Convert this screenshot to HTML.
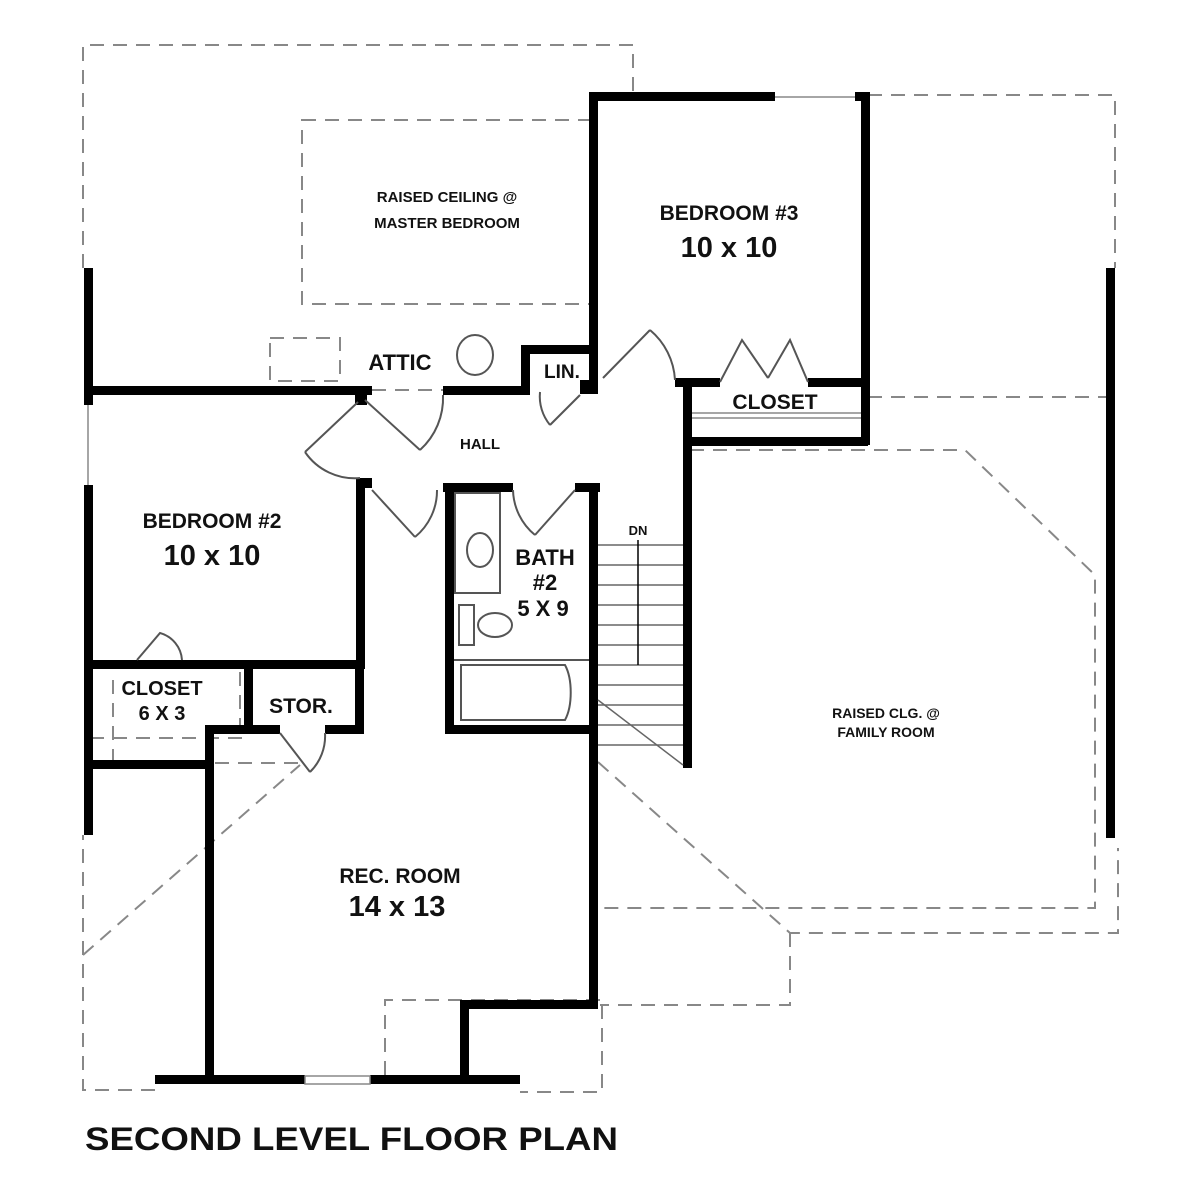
<!DOCTYPE html>
<html><head><meta charset="utf-8"><style>
html,body{margin:0;padding:0;background:#fff;width:1200px;height:1200px;overflow:hidden}
text{font-family:"Liberation Sans",sans-serif;font-weight:bold;fill:#111}
</style></head><body>
<svg width="1200" height="1200" viewBox="0 0 1200 1200" xmlns="http://www.w3.org/2000/svg">
<g fill="none" stroke="#888" stroke-width="2" stroke-dasharray="14,9">
<polyline points="83,268 83,45 633,45 633,95"/>
<rect x="302" y="120" width="288" height="184"/>
<polyline points="868,95 1115,95 1115,268"/>
<line x1="868" y1="397" x2="1115" y2="397"/>
<polyline points="690,450 965,450 1095,575 1095,908 598,908"/>
<polyline points="598,762 790,933 1118,933 1118,848"/>
<polyline points="790,933 790,1005 600,1005"/>
<polyline points="602,1005 602,1092 520,1092"/>
<polyline points="385,1075 385,1000 600,1000"/>
<polyline points="155,1090 83,1090 83,835"/>
<line x1="83" y1="955" x2="300" y2="765"/>
<line x1="215" y1="763" x2="305" y2="763"/>
<line x1="90" y1="738" x2="245" y2="738"/>
<line x1="113" y1="680" x2="113" y2="765"/>
<line x1="240" y1="672" x2="240" y2="725"/>
<rect x="270" y="338" width="70" height="43"/>
<line x1="372" y1="390" x2="443" y2="390"/>
</g>
<g fill="#000">
<rect x="84" y="268" width="9" height="137"/>
<rect x="84" y="485" width="9" height="350"/>
<rect x="84" y="386" width="288" height="9"/>
<rect x="443" y="386" width="87" height="9"/>
<rect x="521" y="345" width="9" height="50"/>
<rect x="521" y="345" width="75" height="9"/>
<rect x="589" y="92" width="9" height="298"/>
<rect x="589" y="92" width="186" height="9"/>
<rect x="855" y="92" width="13" height="9"/>
<rect x="861" y="92" width="9" height="353"/>
<rect x="675" y="378" width="45" height="9"/>
<rect x="808" y="378" width="60" height="9"/>
<rect x="683" y="378" width="9" height="390"/>
<rect x="683" y="437" width="185" height="9"/>
<rect x="356" y="478" width="9" height="190"/>
<rect x="84" y="660" width="281" height="9"/>
<rect x="443" y="483" width="70" height="9"/>
<rect x="575" y="483" width="25" height="9"/>
<rect x="445" y="483" width="9" height="250"/>
<rect x="445" y="725" width="153" height="9"/>
<rect x="589" y="483" width="9" height="522"/>
<rect x="355" y="660" width="9" height="73"/>
<rect x="244" y="660" width="9" height="68"/>
<rect x="205" y="725" width="75" height="9"/>
<rect x="325" y="725" width="39" height="9"/>
<rect x="205" y="725" width="9" height="355"/>
<rect x="84" y="760" width="126" height="9"/>
<rect x="460" y="1000" width="138" height="9"/>
<rect x="460" y="1000" width="9" height="80"/>
<rect x="155" y="1075" width="150" height="9"/>
<rect x="370" y="1075" width="150" height="9"/>
<rect x="1106" y="268" width="9" height="570"/>
<rect x="355" y="395" width="12" height="10"/>
<rect x="360" y="478" width="12" height="10"/>
<rect x="580" y="380" width="18" height="14"/>
</g>
<g fill="none" stroke="#888" stroke-width="1.5">
<line x1="88" y1="405" x2="88" y2="485"/>
<line x1="775" y1="97" x2="855" y2="97"/>
<rect x="305" y="1076" width="65" height="8"/>
<line x1="692" y1="413" x2="861" y2="413"/>
<line x1="692" y1="418" x2="861" y2="418"/>
</g>
<g fill="none" stroke="#555" stroke-width="2">
<line x1="365" y1="400" x2="420" y2="450"/><path d="M420,450 A70,70 0 0 0 443,395"/>
<line x1="358" y1="402" x2="305" y2="452"/><path d="M305,452 A60,60 0 0 0 360,478"/>
<line x1="372" y1="490" x2="415" y2="537"/><path d="M415,537 A60,60 0 0 0 437,490"/>
<line x1="575" y1="490" x2="535" y2="535"/><path d="M535,535 A60,60 0 0 1 513,490"/>
<line x1="580" y1="395" x2="550" y2="425"/><path d="M550,425 A45,45 0 0 1 540,392"/>
<line x1="603" y1="378" x2="650" y2="330"/><path d="M650,330 A70,70 0 0 1 675,380"/>
<path d="M720,382 L742,340 L768,378 M808,382 L790,340 L768,378"/>
<path d="M137,660 L160,633 A30,30 0 0 1 182,660"/>
<line x1="280" y1="733" x2="310" y2="772"/><path d="M310,772 A50,50 0 0 0 325,733"/>
<ellipse cx="475" cy="355" rx="18" ry="20"/>
<rect x="455" y="493" width="45" height="100"/><ellipse cx="480" cy="550" rx="13" ry="17"/>
<rect x="459" y="605" width="15" height="40"/><ellipse cx="495" cy="625" rx="17" ry="12"/>
<line x1="454" y1="660" x2="589" y2="660"/>
<path d="M461,665 H565 A15,35 0 0 1 565,720 H461 Z"/>
</g>
<g stroke="#666" stroke-width="1.5">
<line x1="598" y1="545" x2="683" y2="545"/><line x1="598" y1="565" x2="683" y2="565"/>
<line x1="598" y1="585" x2="683" y2="585"/><line x1="598" y1="605" x2="683" y2="605"/>
<line x1="598" y1="625" x2="683" y2="625"/><line x1="598" y1="645" x2="683" y2="645"/>
<line x1="598" y1="665" x2="683" y2="665"/><line x1="598" y1="685" x2="683" y2="685"/>
<line x1="598" y1="705" x2="683" y2="705"/><line x1="598" y1="725" x2="683" y2="725"/>
<line x1="598" y1="745" x2="683" y2="745"/>
<line x1="638" y1="540" x2="638" y2="665" stroke="#000"/>
<line x1="598" y1="700" x2="683" y2="765"/>
</g>
<text x="447" y="202" font-size="15" text-anchor="middle">RAISED CEILING @</text>
<text x="447" y="228" font-size="15" text-anchor="middle">MASTER BEDROOM</text>
<text x="729" y="220" font-size="21" text-anchor="middle">BEDROOM #3</text>
<text x="729" y="257" font-size="29" text-anchor="middle">10 x 10</text>
<text x="400" y="370" font-size="22" text-anchor="middle">ATTIC</text>
<text x="562" y="378" font-size="19" text-anchor="middle">LIN.</text>
<text x="775" y="409" font-size="21" text-anchor="middle">CLOSET</text>
<text x="480" y="449" font-size="15" text-anchor="middle">HALL</text>
<text x="212" y="528" font-size="21" text-anchor="middle">BEDROOM #2</text>
<text x="212" y="565" font-size="29" text-anchor="middle">10 x 10</text>
<text x="545" y="565" font-size="22" text-anchor="middle">BATH</text>
<text x="545" y="590" font-size="22" text-anchor="middle">#2</text>
<text x="543" y="616" font-size="22" text-anchor="middle">5 X 9</text>
<text x="638" y="535" font-size="13" text-anchor="middle">DN</text>
<text x="162" y="695" font-size="20" text-anchor="middle">CLOSET</text>
<text x="162" y="720" font-size="20" text-anchor="middle">6 X 3</text>
<text x="301" y="713" font-size="21" text-anchor="middle">STOR.</text>
<text x="886" y="718" font-size="14" text-anchor="middle">RAISED CLG. @</text>
<text x="886" y="737" font-size="14" text-anchor="middle">FAMILY ROOM</text>
<text x="400" y="883" font-size="21" text-anchor="middle">REC. ROOM</text>
<text x="397" y="916" font-size="29" text-anchor="middle">14 x 13</text>
<text x="85" y="1150" font-size="32" textLength="533" lengthAdjust="spacingAndGlyphs">SECOND LEVEL FLOOR PLAN</text>
</svg>
</body></html>
